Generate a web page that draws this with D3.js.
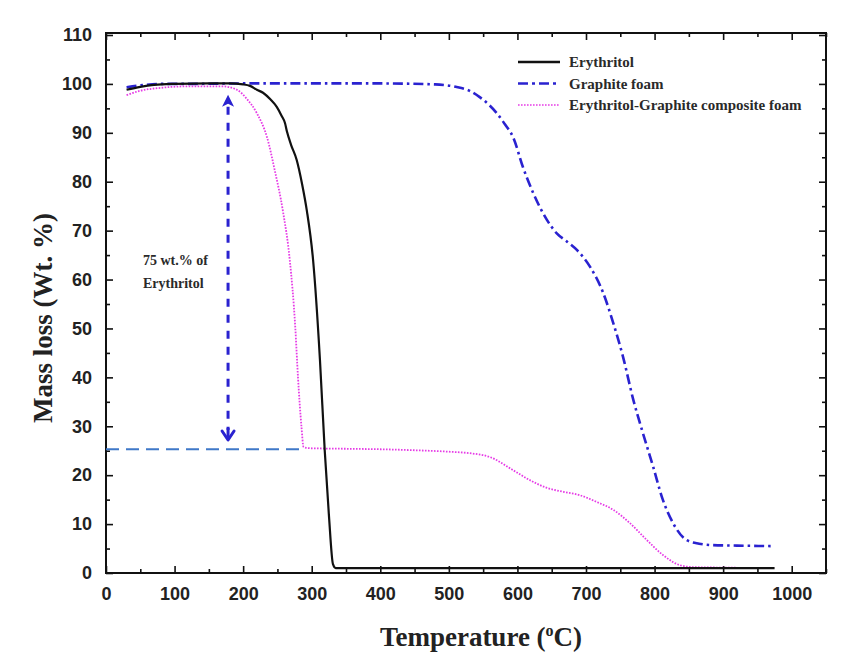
<!DOCTYPE html>
<html>
<head>
<meta charset="utf-8">
<script src="https://cdn.jsdelivr.net/npm/d3@7"></script>
<style>
  html, body { margin: 0; padding: 0; background: #fff; }
  svg { display: block; }
</style>
</head>
<body>
<svg id="chart" width="844" height="657"></svg>
<script>
// TGA curves: temperature (°C) vs remaining mass (wt.%)
const erythritolT = [30, 50, 70, 100, 150, 180, 200, 210, 220, 229, 240, 249, 256, 261, 264, 270, 278, 286, 293, 302, 312, 319, 325, 331, 335, 350, 400, 500, 600, 700, 800, 900, 975];
const erythritolMass = [98.8, 99.4, 99.8, 100, 100.1, 100.1, 99.9, 99.6, 98.8, 98.2, 96.8, 95.3, 93.5, 92, 90.2, 87.5, 84.5, 79.5, 74, 64, 43.6, 25, 12, 1.8, 1.0, 1.0, 1.0, 1.0, 1.0, 1.0, 1.0, 1.0, 1.0];

const graphiteT = [30, 50, 80, 120, 200, 300, 400, 480, 510, 530, 545, 558, 570, 582, 594, 608, 623, 643, 657, 672, 687, 706, 725, 740, 754, 769, 783, 798, 812, 827, 847, 865, 885, 920, 970];
const graphiteMass = [99.3, 99.7, 100, 100, 100.1, 100.1, 100.1, 99.9, 99.4, 98.6, 97.3, 95.8, 94, 91.7, 89, 83, 77.7, 72.2, 69.5, 67.8, 66, 62.6, 57.3, 51, 44.2, 35.4, 28.6, 21.7, 15, 10.2, 6.7, 6.0, 5.7, 5.6, 5.5];

const compositeT = [30, 50, 80, 120, 170, 191, 205, 220, 235, 246, 258, 268, 276, 280, 285, 288, 292, 300, 350, 400, 450, 500, 530, 560, 594, 618, 643, 667, 691, 716, 740, 764, 789, 812, 837, 856, 900, 973];
const compositeMass = [97.7, 98.6, 99.2, 99.5, 99.5, 98.8, 97, 94, 89, 82.4, 74, 64, 50.3, 40, 30, 25.8, 25.6, 25.5, 25.4, 25.3, 25.1, 24.8, 24.5, 23.7, 21, 19, 17.4, 16.6, 15.9, 14.5, 12.9, 10.2, 6.7, 3.7, 1.6, 1.2, 1.1, 1.0];

const seriesNames = ["Erythritol", "Graphite foam", "Erythritol-Graphite composite foam"];
const xTickValues = [0, 100, 200, 300, 400, 500, 600, 700, 800, 900, 1000];
const yTickValues = [0, 10, 20, 30, 40, 50, 60, 70, 80, 90, 100, 110];

// Residual level of the composite and the temperature where the span is marked
const residualLevel = [25.3];
const residualEndT = [290];
const spanT = [178];
const spanRange = [97.8, 27.2];
const spanLabel = ["75 wt.% of", "Erythritol"];

const svg = d3.select("#chart");
const L = 106, R = 826, T = 35, B = 573;

const x = d3.scaleLinear().domain([0, 1050]).range([L, R]);
const y = d3.scaleLinear().domain([0, 110]).range([B, T]);

// axes with inward ticks on all four sides
const xMinor = d3.range(0, 1051, 50).filter(v => v % 100 !== 0);
const yMinor = d3.range(5, 111, 10);

function tickStyle(g) {
  g.select(".domain").remove();
  g.selectAll("line").attr("stroke", "#111").attr("stroke-width", 1.6);
}

svg.append("g").attr("transform", `translate(0,${B})`)
  .call(d3.axisBottom(x).tickValues(xTickValues).tickSize(-7).tickPadding(14).tickFormat(d3.format("d")))
  .call(tickStyle)
  .call(g => g.selectAll("text").attr("font-family", "Liberation Sans, Arial, sans-serif")
    .attr("font-weight", "bold").attr("font-size", 18).attr("fill", "#222"));
svg.append("g").attr("transform", `translate(0,${B})`)
  .call(d3.axisBottom(x).tickValues(xMinor).tickSize(-4).tickFormat(""))
  .call(tickStyle);
svg.append("g").attr("transform", `translate(0,${T - 2})`)
  .call(d3.axisTop(x).tickValues(xTickValues).tickSize(-7).tickFormat(""))
  .call(tickStyle);
svg.append("g").attr("transform", `translate(0,${T - 2})`)
  .call(d3.axisTop(x).tickValues(xMinor).tickSize(-4).tickFormat(""))
  .call(tickStyle);

svg.append("g").attr("transform", `translate(${L},0)`)
  .call(d3.axisLeft(y).tickValues(yTickValues).tickSize(-7).tickPadding(14).tickFormat(d3.format("d")))
  .call(tickStyle)
  .call(g => g.selectAll("text").attr("font-family", "Liberation Sans, Arial, sans-serif")
    .attr("font-weight", "bold").attr("font-size", 18).attr("fill", "#222"));
svg.append("g").attr("transform", `translate(${L},0)`)
  .call(d3.axisLeft(y).tickValues(yMinor).tickSize(-4).tickFormat(""))
  .call(tickStyle);
svg.append("g").attr("transform", `translate(${R},0)`)
  .call(d3.axisRight(y).tickValues(yTickValues).tickSize(-7).tickFormat(""))
  .call(tickStyle);
svg.append("g").attr("transform", `translate(${R},0)`)
  .call(d3.axisRight(y).tickValues(yMinor).tickSize(-4).tickFormat(""))
  .call(tickStyle);

// frame
svg.append("rect")
  .attr("x", L).attr("y", T - 2).attr("width", R - L).attr("height", B - T + 2)
  .attr("fill", "none").attr("stroke", "#111").attr("stroke-width", 2);

// axis titles
svg.append("text")
  .attr("x", 481).attr("y", 646)
  .attr("text-anchor", "middle")
  .attr("font-family", "Liberation Serif, Times New Roman, serif")
  .attr("font-weight", "bold").attr("font-size", 27).attr("fill", "#222")
  .call(t => {
    t.append("tspan").text("Temperature (");
    t.append("tspan").attr("dy", -10).attr("font-size", 16).text("o");
    t.append("tspan").attr("dy", 10).text("C)");
  });

svg.append("text")
  .attr("transform", "translate(52,318) rotate(-90)")
  .attr("text-anchor", "middle")
  .attr("font-family", "Liberation Serif, Times New Roman, serif")
  .attr("font-weight", "bold").attr("font-size", 27).attr("fill", "#222")
  .text("Mass loss (Wt. %)");

// curves
const line = d3.line().x(d => x(d[0])).y(d => y(d[1])).curve(d3.curveMonotoneX);
const zip = (a, b) => a.map((v, i) => [v, b[i]]);

const styles = [
  { color: "#111", width: 2.2, dash: null },
  { color: "#2a22d0", width: 2.6, dash: "10,4,2.5,4" },
  { color: "#e63ce6", width: 1.8, dash: "1.6,1.4" }
];
const seriesData = [zip(erythritolT, erythritolMass), zip(graphiteT, graphiteMass), zip(compositeT, compositeMass)];

// residual-level guide
svg.append("line")
  .attr("x1", x(0)).attr("x2", x(residualEndT[0]))
  .attr("y1", y(residualLevel[0])).attr("y2", y(residualLevel[0]))
  .attr("stroke", "#3f78c8").attr("stroke-width", 2.2).attr("stroke-dasharray", "13,7");

// plotting order: graphite, composite, erythritol on top
[1, 2, 0].forEach(i => {
  svg.append("path").datum(seriesData[i])
    .attr("d", line)
    .attr("fill", "none")
    .attr("stroke", styles[i].color)
    .attr("stroke-width", styles[i].width)
    .attr("stroke-dasharray", styles[i].dash);
});

// double-headed span arrow
const ax = x(spanT[0]);
const yTop = y(spanRange[0]), yBot = y(spanRange[1]);
const arrowColor = "#2a22d0";
svg.append("line")
  .attr("x1", ax).attr("x2", ax).attr("y1", yTop + 12).attr("y2", yBot - 10)
  .attr("stroke", arrowColor).attr("stroke-width", 3).attr("stroke-dasharray", "8,8");
svg.append("path")
  .attr("d", `M${ax},${yTop} L${ax - 6},${yTop + 12} L${ax},${yTop + 9} L${ax + 6},${yTop + 12} Z`)
  .attr("fill", arrowColor);
svg.append("path")
  .attr("d", `M${ax - 6},${yBot - 9} L${ax},${yBot} L${ax + 6},${yBot - 9}`)
  .attr("fill", "none").attr("stroke", arrowColor).attr("stroke-width", 3)
  .attr("stroke-linecap", "round").attr("stroke-linejoin", "round");
svg.append("line")
  .attr("x1", ax).attr("x2", ax).attr("y1", yBot - 12).attr("y2", yBot - 1)
  .attr("stroke", arrowColor).attr("stroke-width", 3);

// span label
svg.append("g").selectAll("text").data(spanLabel).join("text")
  .attr("x", 143).attr("y", (d, i) => 265 + i * 23)
  .attr("font-family", "Liberation Serif, Times New Roman, serif")
  .attr("font-weight", "bold").attr("font-size", 14).attr("fill", "#2a2a2a")
  .text(d => d);

// legend
const legend = svg.append("g");
seriesNames.forEach((name, i) => {
  const ly = 62 + i * 21.5;
  legend.append("line")
    .attr("x1", 518).attr("x2", 560).attr("y1", ly).attr("y2", ly)
    .attr("stroke", styles[i].color)
    .attr("stroke-width", i === 2 ? 1.6 : 2.6)
    .attr("stroke-dasharray", i === 1 ? "10,4,3,4" : styles[i].dash);
  legend.append("text")
    .attr("x", 569).attr("y", ly + 5)
    .attr("font-family", "Liberation Serif, Times New Roman, serif")
    .attr("font-weight", "bold").attr("font-size", 15).attr("fill", "#2a2a2a")
    .text(name);
});
</script>
</body>
</html>
